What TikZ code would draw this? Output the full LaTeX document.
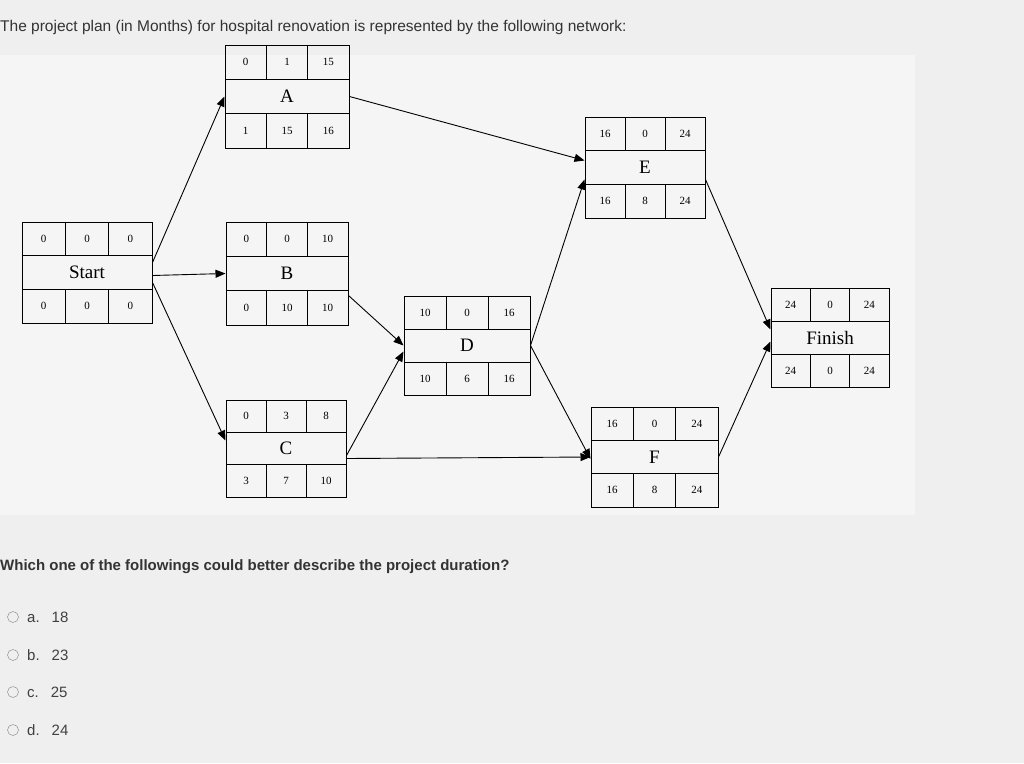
\documentclass[tikz,border=0pt]{standalone}
\usepackage{fontspec}
\setmainfont{Liberation Serif}
\newfontfamily\uisans{Liberation Sans}
\usetikzlibrary{arrows.meta}
\tikzset{
  conn/.style={line width=0.9pt,-{Triangle[length=10pt,width=8pt]}},
  num/.style={font=\fontsize{11}{12}\selectfont,inner sep=0},
  lab/.style={font=\fontsize{19}{20}\selectfont,inner sep=0},
  qtext/.style={font=\uisans\fontsize{15.5}{17}\selectfont,anchor=west,inner sep=0},
  opt/.style={font=\uisans\fontsize{15}{17}\selectfont,anchor=west,inner sep=0,text=black!75}
}
\newcommand\abox[8]{%
  \node[draw,line width=1pt,inner sep=0,minimum width={(#4-#2)*1pt},minimum height={(#5-#3)*1pt}] (#1) at ({(#2+#4)/2},{(#3+#5)/2}) {};
  \draw[line width=0.9pt] (#2,{#3+(#5-#3)/3}) -- (#4,{#3+(#5-#3)/3});
  \draw[line width=0.9pt] (#2,{#3+2*(#5-#3)/3}) -- (#4,{#3+2*(#5-#3)/3});
  \draw[line width=0.9pt] ({#2+(#4-#2)/3},#3) -- ({#2+(#4-#2)/3},{#3+(#5-#3)/3});
  \draw[line width=0.9pt] ({#2+2*(#4-#2)/3},#3) -- ({#2+2*(#4-#2)/3},{#3+(#5-#3)/3});
  \draw[line width=0.9pt] ({#2+(#4-#2)/3},{#3+2*(#5-#3)/3}) -- ({#2+(#4-#2)/3},#5);
  \draw[line width=0.9pt] ({#2+2*(#4-#2)/3},{#3+2*(#5-#3)/3}) -- ({#2+2*(#4-#2)/3},#5);
  \node[lab] (#1L) at (#1) {#6};
  \foreach \v [count=\i] in {#7} \node[num] (#1t\i) at ({#2+(\i-0.5)*(#4-#2)/3},{#3+(#5-#3)/6}) {\v};
  \foreach \v [count=\i] in {#8} \node[num] (#1b\i) at ({#2+(\i-0.5)*(#4-#2)/3},{#5-(#5-#3)/6}) {\v};
}
\begin{document}
\begin{tikzpicture}[x=1pt,y=-1pt]
\fill[blue!4!gray!12] (0,0) rectangle (1024,763);
\useasboundingbox (0,0) rectangle (1024,763);
\fill[white!92!gray] (0,55) rectangle (915,515);
\node[qtext,text=black!80] (title) at (0,27) {The project plan (in Months) for hospital renovation is represented by the following network:};
\abox{A}{225}{45}{349}{148}{A}{0,1,15}{1,15,16}
\abox{S}{22}{222}{152}{323}{Start}{0,0,0}{0,0,0}
\abox{B}{226}{222}{348}{325}{B}{0,0,10}{0,10,10}
\abox{C}{226}{400}{346}{497}{C}{0,3,8}{3,7,10}
\abox{D}{404}{296}{530}{395}{D}{10,0,16}{10,6,16}
\abox{E}{585}{117}{705}{218}{E}{16,0,24}{16,8,24}
\abox{F}{591}{407}{718}{507}{F}{16,0,24}{16,8,24}
\abox{N}{771}{288}{889}{387}{Finish}{24,0,24}{24,0,24}
\draw[conn] ([yshift=10pt]S.east) -- (A.west);
\draw[conn] ([yshift=-3pt]S.east) -- (B.west);
\draw[conn] ([yshift=-10pt]S.east) -- ([yshift=8pt]C.west);
\draw[conn] (A.east) -- ([yshift=7pt]E.west);
\draw[conn] ([yshift=-22pt]B.east) -- (D.west);
\draw[conn] ([yshift=-7pt]C.east) -- ([yshift=-6pt]D.west);
\draw[conn] ([yshift=-10pt]C.east) -- (F.west);
\draw[conn] (D.east) -- ([yshift=-12pt]E.west);
\draw[conn] (D.east) -- ([yshift=-2pt]F.west);
\draw[conn] ([yshift=-12pt]E.east) -- ([yshift=8pt]N.west);
\draw[conn] (F.east) -- ([yshift=-4pt]N.west);
\node[qtext,font=\uisans\bfseries\fontsize{15}{17}\selectfont,text=black!80] (q) at (0,567) {Which one of the followings could better describe the project duration?};
\foreach \l/\v/\y [count=\i] in {a./18/617,b./23/655,c./25/692,d./24/730}{
  \node[draw,circle,black!50,inner sep=0,minimum size=11pt] (r\i) at (13,\y) {};
  \node[opt] (o\i) at (27,\y) {\l\hspace{12pt}\v};
}
\end{tikzpicture}
\end{document}
